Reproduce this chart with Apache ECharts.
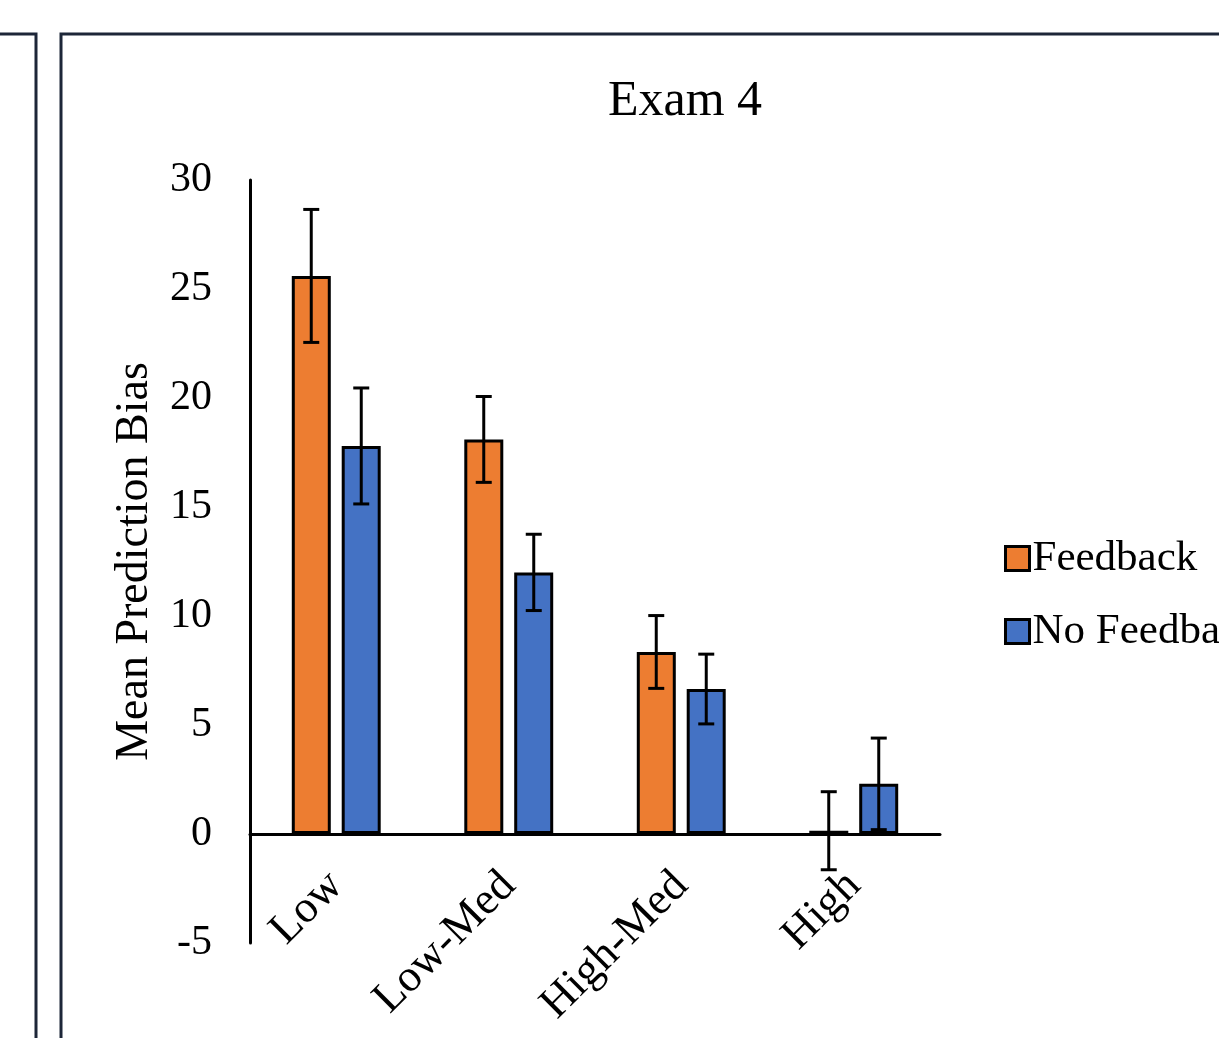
<!DOCTYPE html>
<html>
<head>
<meta charset="utf-8">
<script src="https://cdn.jsdelivr.net/npm/echarts@6/dist/echarts.min.js"></script>
<style>
html,body{margin:0;padding:0;background:#fff;}
#chart{width:1219px;height:1038px;}
</style>
</head>
<body>
<div id="chart"></div>
<script>
var categories = ['Low', 'Low-Med', 'High-Med', 'High'];
var feedback = [25.6, 18.1, 8.35, 0.15];
var noFeedback = [17.8, 12.0, 6.65, 2.3];
var feedbackErr = [3.05, 1.97, 1.67, 1.79];
var noFeedbackErr = [2.66, 1.75, 1.6, 2.1];
var yTicks = [-5, 0, 5, 10, 15, 20, 25, 30];

var FONT = 'Liberation Serif, Times New Roman, serif';

function errData(vals, errs) {
  return vals.map(function (v, i) { return [i, v - errs[i], v + errs[i]]; });
}
function makeErrRender(offset) {
  return function (params, api) {
    var x = api.value(0), lo = api.value(1), hi = api.value(2);
    var pHi = api.coord([x, hi]);
    var pLo = api.coord([x, lo]);
    var cx = pHi[0] + offset;
    var hw = 8;
    var st = { stroke: '#000', lineWidth: 3 };
    return {
      type: 'group',
      children: [
        { type: 'line', shape: { x1: cx, y1: pHi[1], x2: cx, y2: pLo[1] }, style: st },
        { type: 'line', shape: { x1: cx - hw, y1: pHi[1], x2: cx + hw, y2: pHi[1] }, style: st },
        { type: 'line', shape: { x1: cx - hw, y1: pLo[1], x2: cx + hw, y2: pLo[1] }, style: st }
      ]
    };
  };
}

var chart = echarts.init(document.getElementById('chart'));
chart.setOption({
  backgroundColor: '#fff',
  animation: false,
  textStyle: { fontFamily: FONT, color: '#000' },
  graphic: [
    { type: 'rect', shape: { x: -10, y: 34, width: 46, height: 1100 }, style: { fill: 'none', stroke: '#1d2638', lineWidth: 3 } },
    { type: 'rect', shape: { x: 61, y: 34, width: 1300, height: 1100 }, style: { fill: 'none', stroke: '#1d2638', lineWidth: 3 } }
  ],
  title: {
    text: 'Exam 4',
    left: 680,
    top: 72,
    textAlign: 'center',
    textStyle: { fontFamily: FONT, fontSize: 50, fontWeight: 'normal', color: '#000' }
  },
  legend: {
    orient: 'vertical',
    left: 999,
    top: 532,
    itemWidth: 24,
    itemHeight: 24,
    itemGap: 30,
    icon: 'rect',
    data: ['Feedback', 'No Feedback'],
    itemStyle: { borderColor: '#000', borderWidth: 3 },
    textStyle: { fontFamily: FONT, fontSize: 43, color: '#000', padding: [0, 0, 0, -2] }
  },
  grid: { left: 250, right: 279, top: 180, bottom: 95, containLabel: false, outerBoundsMode: 'none' },
  xAxis: {
    type: 'category',
    data: categories,
    axisLine: { onZero: true, lineStyle: { color: '#000', width: 3 } },
    axisTick: { show: false },
    axisLabel: { rotate: 45, margin: -64, fontFamily: FONT, fontSize: 45, color: '#000', interval: 0 },
    splitLine: { show: false }
  },
  yAxis: {
    type: 'value',
    min: -5,
    max: 30,
    interval: 5,
    name: 'Mean Prediction Bias',
    nameLocation: 'middle',
    nameGap: 92,
    nameTextStyle: { fontFamily: FONT, fontSize: 46, color: '#000' },
    axisLine: { show: true, lineStyle: { color: '#000', width: 3 } },
    axisTick: { show: false },
    splitLine: { show: false },
    axisLabel: {
      margin: 38, fontFamily: FONT, fontSize: 42, color: '#000',
      formatter: function (v) { return yTicks.indexOf(v) >= 0 ? String(v) : ''; }
    }
  },
  series: [
    {
      name: 'Feedback', type: 'bar', data: feedback, barWidth: 39, barGap: '28%',
      itemStyle: { color: '#ED7D31', borderColor: '#000', borderWidth: 3 }
    },
    {
      name: 'No Feedback', type: 'bar', data: noFeedback, barWidth: 39, barGap: '28%',
      itemStyle: { color: '#4472C4', borderColor: '#000', borderWidth: 3 }
    },
    {
      name: 'errF', type: 'custom', renderItem: makeErrRender(-25), data: errData(feedback, feedbackErr),
      encode: { x: 0, y: [1, 2] }, z: 10, silent: true
    },
    {
      name: 'errN', type: 'custom', renderItem: makeErrRender(25), data: errData(noFeedback, noFeedbackErr),
      encode: { x: 0, y: [1, 2] }, z: 10, silent: true
    }
  ]
});
</script>
</body>
</html>
